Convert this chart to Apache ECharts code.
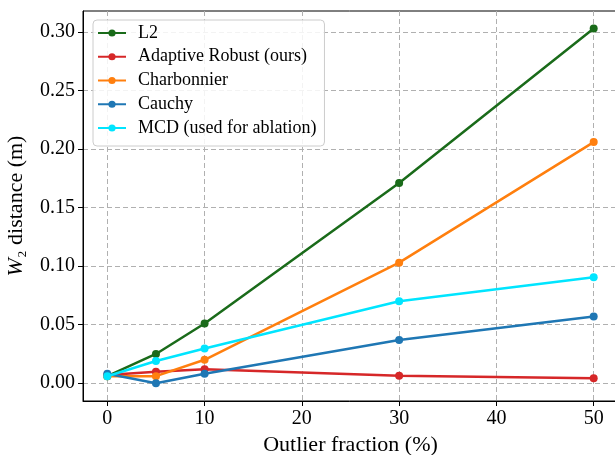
<!DOCTYPE html>
<html>
<head>
<meta charset="utf-8">
<script src="https://cdn.jsdelivr.net/npm/echarts@6/dist/echarts.min.js"></script>
<style>
  html, body { margin: 0; padding: 0; background: #fff; }
  #main { width: 615px; height: 455px; }
</style>
</head>
<body>
<div id="main"></div>
<script>
// outlier fraction (%)
var fractions = [0, 5, 10, 30, 50];
var xTicks = [0, 10, 20, 30, 40, 50];
var yTicks = [0, 0.05, 0.10, 0.15, 0.20, 0.25, 0.30];

var l2 = [0.006, 0.025, 0.051, 0.171, 0.303];
var adaptive = [0.007, 0.0097, 0.012, 0.0063, 0.0043];
var charbonnier = [0.006, 0.006, 0.020, 0.103, 0.206];
var cauchy = [0.008, 0.000, 0.008, 0.037, 0.057];
var mcd = [0.006, 0.019, 0.0296, 0.070, 0.0906];

var names = ['L2', 'Adaptive Robust (ours)', 'Charbonnier', 'Cauchy', 'MCD (used for ablation)'];
var colors = ['#1a6b1a', '#d62728', '#ff7f0e', '#1f77b4', '#00e5ff'];
var allData = [l2, adaptive, charbonnier, cauchy, mcd];

var font = '"Liberation Serif", "DejaVu Serif", serif';

function pairs(ys) {
    return fractions.map(function (x, i) { return [x, ys[i]]; });
}

var series = allData.map(function (ys, i) {
    return {
        name: names[i],
        type: 'line',
        data: pairs(ys),
        symbol: 'circle',
        symbolSize: 8,
        lineStyle: { width: 2.5, color: colors[i] },
        itemStyle: { color: colors[i] },
        z: 10 + i
    };
});

var myChart = echarts.init(document.getElementById('main'));
var dashed = { show: true, lineStyle: { color: '#b0b0b0', type: [5, 3], width: 1 } };
var option = {
    animation: false,
    color: colors,
    textStyle: { fontFamily: font },
    grid: {
        left: 83, right: -3, top: 11, bottom: 54,
        outerBoundsMode: 'none',
        containLabel: false,
        show: true, borderColor: '#000', borderWidth: 1
    },
    legend: {
        orient: 'vertical',
        left: 93, top: 20,
        padding: [4, 8, 9, 4],
        itemGap: 5.75,
        itemWidth: 28,
        itemHeight: 9,
        backgroundColor: 'rgba(255,255,255,0.85)',
        borderColor: '#cccccc',
        borderWidth: 1,
        borderRadius: 4,
        textStyle: { fontFamily: font, fontSize: 18, color: '#000', padding: [0, 0, 0, 7] },
        data: names
    },
    xAxis: {
        type: 'value',
        min: -2.5, max: 52.5,
        name: 'Outlier fraction (%)',
        nameLocation: 'middle',
        nameGap: 29,
        nameTextStyle: { fontFamily: font, fontSize: 22, color: '#000' },
        axisLine: { show: true, onZero: false, lineStyle: { color: '#000' } },
        axisTick: { show: true, customValues: xTicks, length: 5, lineStyle: { color: '#000' } },
        axisLabel: { customValues: xTicks, fontFamily: font, fontSize: 20, color: '#000', margin: 8 },
        splitLine: dashed
    },
    yAxis: {
        type: 'value',
        min: -0.0152, max: 0.318,
        name: '{i|W}₂ distance (m)',
        nameLocation: 'middle',
        nameRotate: 90,
        nameGap: 56,
        nameTextStyle: {
            fontFamily: font, fontSize: 22, color: '#000',
            rich: { i: { fontFamily: font, fontSize: 22, fontStyle: 'italic', color: '#000' } }
        },
        axisLine: { show: true, onZero: false, lineStyle: { color: '#000' } },
        axisTick: { show: true, customValues: yTicks, length: 5, lineStyle: { color: '#000' } },
        axisLabel: {
            customValues: yTicks, fontFamily: font, fontSize: 20, color: '#000', margin: 8,
            formatter: function (v) { return v.toFixed(2); }
        },
        splitLine: dashed
    },
    series: series
};
myChart.setOption(option);
</script>
</body>
</html>
